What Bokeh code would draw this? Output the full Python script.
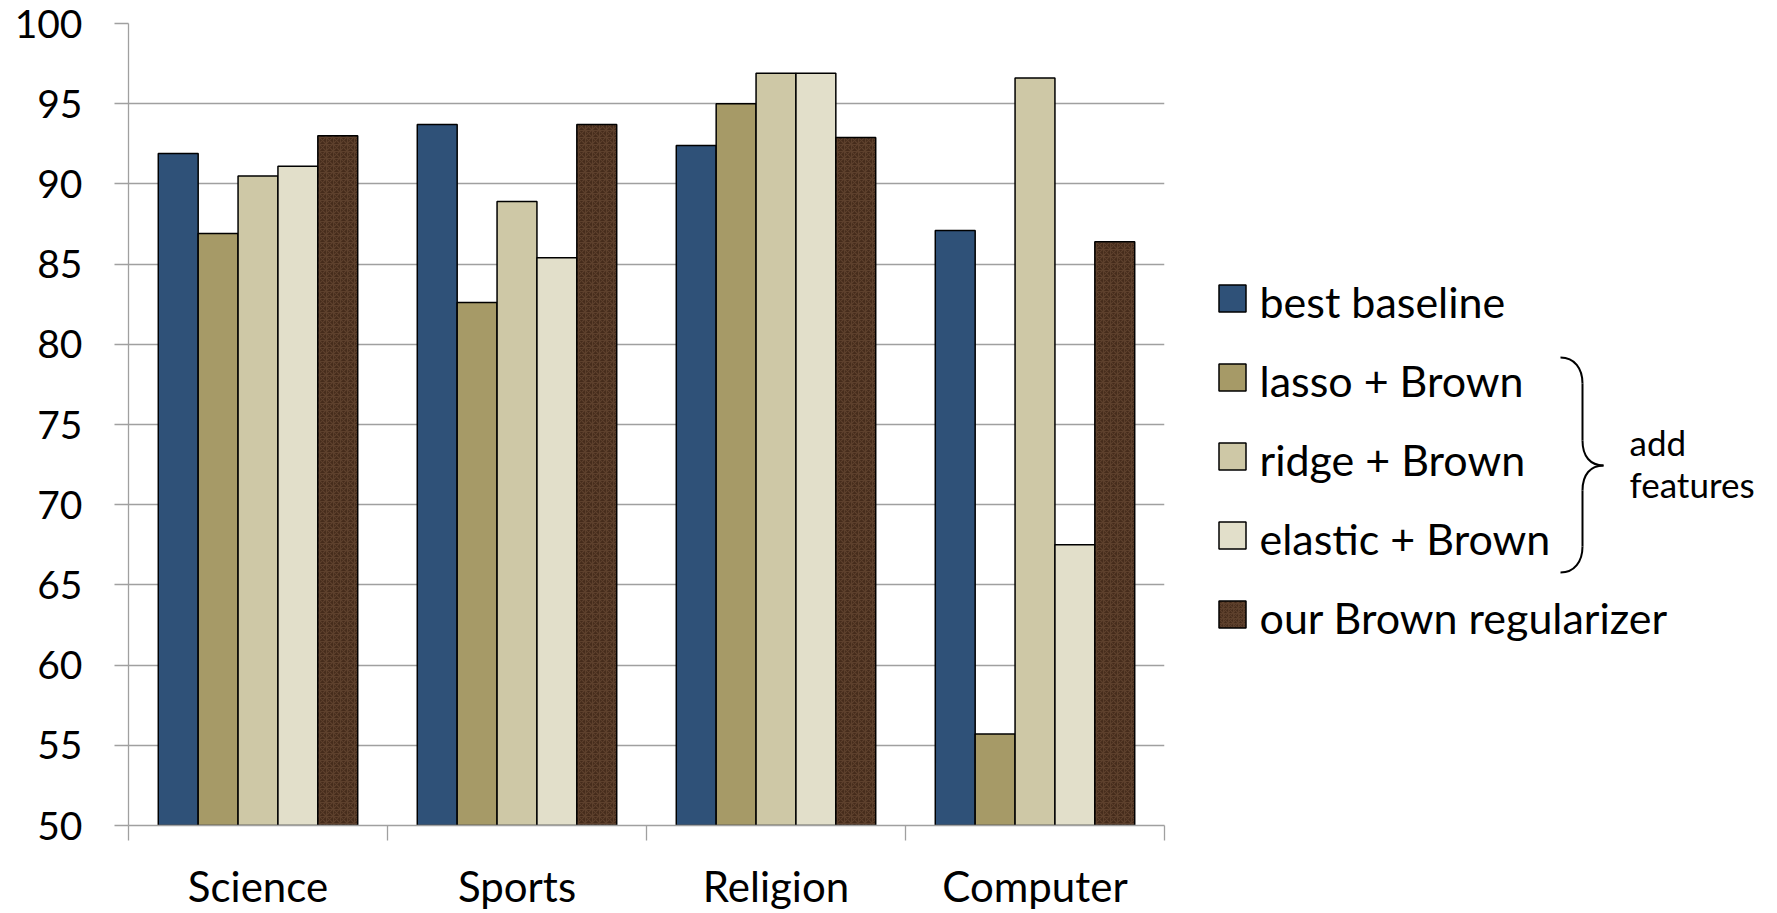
from bokeh.plotting import figure
from bokeh.models import ColumnDataSource, Range1d, FixedTicker
from bokeh.transform import dodge
from bokeh.layouts import row
from bokeh.core.properties import value
from bokeh.embed import file_html
from bokeh.resources import INLINE

# ---------------- data ----------------
categories = ["Science", "Sports", "Religion", "Computer"]
series_names = ["best baseline", "lasso + Brown", "ridge + Brown",
                "elastic + Brown", "our Brown regularizer"]
best_baseline = [91.9, 93.7, 92.4, 87.1]
lasso_brown = [86.9, 82.6, 95.0, 55.7]
ridge_brown = [90.5, 88.9, 96.9, 96.6]
elastic_brown = [91.1, 85.4, 96.9, 67.5]
our_brown = [93.0, 93.7, 92.9, 86.4]
y_ticks = [50, 55, 60, 65, 70, 75, 80, 85, 90, 95, 100]
brace_label = ["add", "features"]

series_values = [best_baseline, lasso_brown, ridge_brown, elastic_brown, our_brown]
colors = ["#2F5178", "#A69A67", "#CEC8A6", "#E2DFCA", "#452B1B"]
textured = [False, False, False, False, True]
TEX = dict(hatch_pattern="criss_cross", hatch_color="#75563D",
           hatch_alpha=0.5, hatch_weight=1.1)

FONT = "Lato"
GRID = "#A0A0A0"
TOP, BOTTOM = 23, 88          # frame borders (px) shared by both panels
H = 913

# ---------------- main chart ----------------
p = figure(width=1200, height=H, output_backend="svg", toolbar_location=None,
           x_range=Range1d(0, 4), y_range=Range1d(50, 100),
           min_border_left=128, min_border_right=36, min_border_top=TOP,
           min_border_bottom=BOTTOM)
p.outline_line_color = None
p.background_fill_color = "white"
p.border_fill_color = "white"

centers = [i + 0.5 for i in range(len(categories))]
n = len(series_values)
bar_w = 0.154
for k, (name, vals) in enumerate(zip(series_names, series_values)):
    src = ColumnDataSource(dict(x=centers, top=vals, cat=categories))
    off = (k - (n - 1) / 2) * bar_w
    kw = dict(x=dodge("x", off, range=p.x_range), top="top", bottom=50,
              width=bar_w, source=src, fill_color=colors[k],
              line_color="black", line_width=1.5)
    if textured[k]:
        kw.update(hatch_scale=7, **TEX)
    p.vbar(**kw)

# y axis
p.yaxis.ticker = FixedTicker(ticks=y_ticks, minor_ticks=[])
p.yaxis.major_label_text_font = FONT
p.yaxis.major_label_text_font_size = "39px"
p.yaxis.major_label_text_color = "black"
p.yaxis.major_label_standoff = 32
p.yaxis.major_tick_out = 14
p.yaxis.major_tick_in = 0
p.yaxis.major_tick_line_color = GRID
p.yaxis.major_tick_line_width = 1.3
p.yaxis.axis_line_color = GRID
p.yaxis.axis_line_width = 1.3

# x axis: labels at category centres, ticks at category boundaries
p.xaxis.ticker = FixedTicker(ticks=centers,
                             minor_ticks=list(range(len(categories) + 1)))
p.xaxis.major_label_overrides = {c: lab for c, lab in zip(centers, categories)}
p.xaxis.major_label_text_font = FONT
p.xaxis.major_label_text_font_size = "42px"
p.xaxis.major_label_text_color = "black"
p.xaxis.major_label_standoff = 20
p.xaxis.major_tick_out = 0
p.xaxis.major_tick_in = 0
p.xaxis.minor_tick_out = 15
p.xaxis.minor_tick_in = 0
p.xaxis.minor_tick_line_color = GRID
p.xaxis.minor_tick_line_width = 1.3
p.xaxis.axis_line_color = GRID
p.xaxis.axis_line_width = 1.3

p.xgrid.grid_line_color = None
p.ygrid.ticker = FixedTicker(ticks=y_ticks)
p.ygrid.grid_line_color = GRID
p.ygrid.grid_line_width = 1.3

# ---------------- legend panel (data units = page pixels) ----------------
L = figure(width=577, height=H, output_backend="svg", toolbar_location=None,
           x_range=Range1d(0, 577), y_range=Range1d(H - BOTTOM, TOP),
           min_border_left=0, min_border_right=0,
           min_border_top=TOP, min_border_bottom=BOTTOM)
L.axis.visible = False
L.grid.visible = False
L.outline_line_color = None
L.background_fill_color = "white"
L.border_fill_color = "white"

row_y = [298, 377, 456, 535, 614]
for k, name in enumerate(series_names):
    kw = dict(x=[32], y=[row_y[k]], width=27, height=27, fill_color=colors[k],
              line_color="black", line_width=1.5)
    if textured[k]:
        kw.update(hatch_scale=5, **TEX)
    L.rect(**kw)
    L.text(x=[59], y=[row_y[k] + 3], text=[name], text_font=value(FONT),
           text_font_size="43px", text_color="black",
           text_baseline="alphabetic", text_align="left")

# brace grouping the "+ Brown" series
bx0, bx1, bx2 = 360, 382, 403
by = [357, 383, 440, 465, 490, 546, 572]
L.bezier(x0=[bx0, bx1, bx1, bx2, bx1, bx1],
         y0=[by[0], by[1], by[2], by[3], by[4], by[5]],
         x1=[bx1, bx1, bx2, bx1, bx1, bx0],
         y1=[by[1], by[2], by[3], by[4], by[5], by[6]],
         cx0=[bx0 + 14, bx1, bx1, bx2 - 13, bx1, bx1],
         cy0=[by[0], by[1], by[2] + 16, by[3], by[4], by[5] + 15],
         cx1=[bx1, bx1, bx2 - 13, bx1, bx1, bx0 + 14],
         cy1=[by[1] - 15, by[2], by[3], by[4] - 16, by[5], by[6]],
         line_color="black", line_width=2)
L.text(x=[429, 429], y=[441, 483], text=brace_label, text_font=value(FONT),
       text_font_size="35px", text_color="black",
       text_baseline="alphabetic", text_align="left")

layout = row(p, L, spacing=0)
open("out.html", "w").write(file_html(layout, INLINE))
